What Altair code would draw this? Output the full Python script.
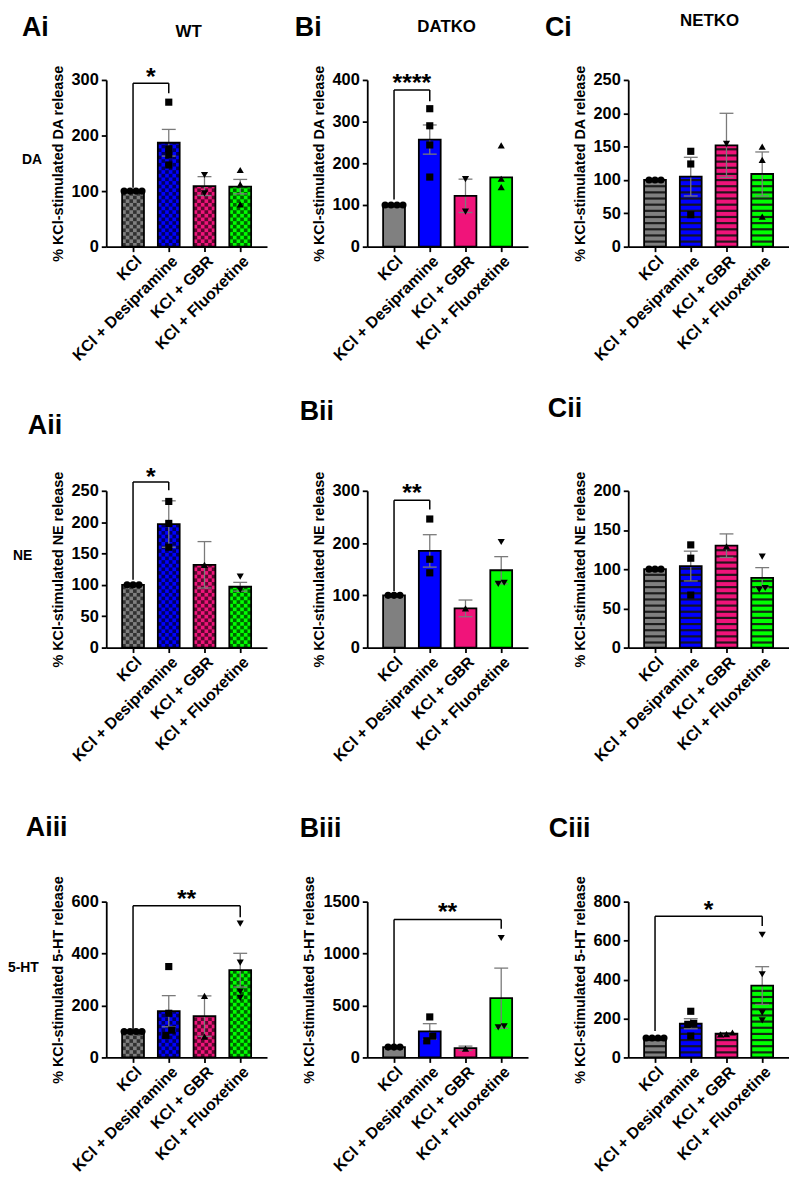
import altair as alt
import pandas as pd

# ── categories and styling per group ──
GROUPS = ["KCl", "KCl + Desipramine", "KCl + GBR", "KCl + Fluoxetine"]
COLORS = ["#808080", "#0000FF", "#F0147A", "#00FF00"]
SHAPES_DA = ["circle", "square", "triangle-down", "triangle-up"]
SHAPES_NE = ["circle", "square", "triangle-up", "triangle-down"]
SHAPES_HT = ["circle", "square", "triangle-up", "triangle-down"]

# ── DA release (row i) ──
WT_DA_MEAN = [100, 187, 109, 108]
WT_DA_SEM = [0, 24, 17, 13]
WT_DA_PTS = [[100, 100, 100, 100], [260, 176, 165, 147], [129, 96], [138, 112, 76]]
WT_DA_SIG = (1, 294, 106, 276, "*", 314)   # target bar, bracket y, left leg, right leg, stars, star y

DAT_DA_MEAN = [100, 257, 122, 166]
DAT_DA_SEM = [0, 35, 40, 0]
DAT_DA_PTS = [[100, 100, 100, 100], [331, 290, 244, 167], [162, 84], [243, 163, 143]]
DAT_DA_SIG = (1, 376, 113, 349, "****", 405)

NET_DA_MEAN = [100, 105, 152, 109]
NET_DA_SEM = [0, 29, 48, 33]
NET_DA_PTS = [[100, 100, 100], [143, 124, 48], [154], [150, 130, 45]]
NET_DA_SIG = None

# ── NE release (row ii) ──
WT_NE_MEAN = [100, 197, 132, 97]
WT_NE_SEM = [0, 37, 37, 7]
WT_NE_PTS = [[100, 100, 100], [233, 198, 160], [132], [113, 92]]
WT_NE_SIG = (1, 264, 108, 251, "*", 280)

DAT_NE_MEAN = [100, 185, 75, 148]
DAT_NE_SEM = [0, 31, 16, 26]
DAT_NE_PTS = [[100, 100, 100], [246, 169, 143], [75], [202, 124, 122]]
DAT_NE_SIG = (1, 282, 108, 264, "**", 306)

NET_NE_MEAN = [100, 104, 130, 89]
NET_NE_SEM = [0, 19, 15, 13]
NET_NE_PTS = [[100, 100, 100], [131, 114, 67], [129], [116, 76, 74]]
NET_NE_SIG = None

# ── 5-HT release (row iii) ──
WT_HT_MEAN = [100, 178, 159, 336]
WT_HT_SEM = [0, 60, 78, 65]
WT_HT_PTS = [[100, 100, 100, 100], [350, 170, 105, 85], [237, 80], [515, 365, 254, 229]]
WT_HT_SIG = (3, 584, 108, 540, "**", 629)

DAT_HT_MEAN = [100, 250, 89, 570]
DAT_HT_SEM = [0, 75, 20, 290]
DAT_HT_PTS = [[100, 100, 100], [390, 205, 160], [85], [1150, 300, 290]]
DAT_HT_SIG = (3, 1328, 127, 1239, "**", 1446)

NET_HT_MEAN = [100, 173, 122, 369]
NET_HT_SEM = [0, 26, 5, 97]
NET_HT_PTS = [[100, 100, 100, 100], [237, 175, 170, 110], [128, 120, 118], [630, 427, 230, 190]]
NET_HT_SIG = (3, 725, 136, 675, "*", 780)

# ── layout constants (pixels) ──
PLOT_W = 162
STEP_PX = 36
BAR_PX = 22
ROW_H = {"DA": 168, "NE": 158, "5-HT": 157}
FONT = "Liberation Sans"

TAG_POS = {"Ai": (-85, -44), "Bi": (-73, -44), "Ci": (-84, -44),
           "Aii": (-79, -57), "Bii": (-68, -71), "Cii": (-81, -74),
           "Aiii": (-81, -66), "Biii": (-68, -65), "Ciii": (-80, -65)}
HEADER_POS = {"WT": (83, -43), "DATKO": (80, -48), "NETKO": (82, -54)}
ROWLAB_POS = {"DA": (-85, 81), "NE": (-94, 66), "5-HT": (-99, 67)}

LABEL_EXPR = "[" + ", ".join(f"'{g}'" for g in GROUPS) + "][datum.value]"


def spread(values, u):
    """fan out points that would sit on top of each other (GraphPad style)"""
    offs = [0.0] * len(values)
    order = sorted(range(len(values)), key=lambda i: values[i])
    clusters = []
    for i in order:
        if clusters and abs(values[i] - values[clusters[-1][-1]]) / u < 6:
            clusters[-1].append(i)
        else:
            clusters.append([i])
    for cl in clusters:
        n = len(cl)
        for k, i in enumerate(cl):
            offs[i] = (k - (n - 1) / 2) * 6.0
    return offs


def panel(tag, geno, nt, ymax, ystep, mean, sem, pts, shapes, sig, header, row_label):
    height = ROW_H[nt]
    u = ymax / height                      # data units per pixel
    half = BAR_PX / 2 / STEP_PX

    X = alt.X("x:Q", scale=alt.Scale(domain=[-0.75, 3.75], nice=False, zero=False),
              axis=alt.Axis(values=[0, 1, 2, 3], labelExpr=LABEL_EXPR, title=None,
                            labelAngle=-45, labelAlign="right", labelBaseline="top",
                            labelOverlap=False, labelPadding=1, labelFontSize=16))
    Y = alt.Y("y:Q", scale=alt.Scale(domain=[0, ymax], nice=False),
              axis=alt.Axis(values=list(range(0, ymax + 1, ystep)), format="d",
                            title=f"% KCl-stimulated {nt} release",
                            labelPadding=3, titlePadding=6, labelFontSize=16.5))

    bars = pd.DataFrame({
        "x": [i - half for i in range(4)],
        "x2": [i + half for i in range(4)],
        "y": [0] * 4,
        "y2": mean,
        "c": COLORS,
    })

    layers = [
        alt.Chart(bars).mark_rect().encode(
            x=X, x2="x2", y=Y, y2="y2", color=alt.Color("c:N", scale=None))
    ]

    # texture: checks for WT, stripes for NETKO, plain for DATKO
    if geno == "WT":
        cell = 3.67 * u
        cw = (BAR_PX / 6) / STEP_PX
        layers.append(
            alt.Chart(bars).transform_calculate(
                r=f"sequence(0, ceil(datum.y2 / {cell}))", j="sequence(0, 6)"
            ).transform_flatten(["r"]).transform_flatten(["j"]).transform_filter(
                "(datum.r + datum.j) % 2 == 0"
            ).transform_calculate(
                x=f"datum.x + datum.j * {cw}"
            ).transform_calculate(
                x2=f"datum.x + {cw}",
                y2=f"min(datum.y2, (datum.r + 1) * {cell})",
            ).transform_calculate(
                y=f"datum.r * {cell}"
            ).mark_rect(color="black", opacity=0.62).encode(x=X, x2="x2", y=Y, y2="y2")
        )
    elif geno == "NETKO":
        period = 6.2 * u
        dark = 2.2 * u
        layers.append(
            alt.Chart(bars).transform_calculate(
                r=f"sequence(0, ceil(datum.y2 / {period}))"
            ).transform_flatten(["r"]).transform_calculate(
                y=f"datum.r * {period} + {period - dark}",
                y2=f"min(datum.y2, (datum.r + 1) * {period})",
            ).transform_filter("datum.y < datum.y2").mark_rect(
                color="#151515", opacity=0.92
            ).encode(x=X, x2="x2", y=Y, y2="y2")
        )

    # error bars (mean ± SEM) with caps
    cap = 7 / STEP_PX
    seg = []
    for i, (m, s) in enumerate(zip(mean, sem)):
        if s <= 0:
            continue
        seg.append({"x": i, "x2": i, "y": m - s, "y2": m + s})
        seg.append({"x": i - cap, "x2": i + cap, "y": m + s, "y2": m + s})
        seg.append({"x": i - cap, "x2": i + cap, "y": m - s, "y2": m - s})
    if seg:
        layers.append(alt.Chart(pd.DataFrame(seg)).mark_rule(color="#7a7a7a", strokeWidth=1.3).encode(
            x=X, x2="x2", y=Y, y2="y2"))

    # bar outlines
    layers.append(alt.Chart(bars).mark_rect(fillOpacity=0, stroke="black", strokeWidth=1.8).encode(
        x=X, x2="x2", y=Y, y2="y2"))

    # individual points
    prow = []
    for i, vals in enumerate(pts):
        for v, o in zip(vals, spread(vals, u)):
            prow.append({"x": i + o / STEP_PX, "y": v, "s": shapes[i]})
    layers.append(alt.Chart(pd.DataFrame(prow)).mark_point(
        filled=True, color="black", size=52, opacity=1).encode(
        x=X, y=Y, shape=alt.Shape("s:N", scale=None)))

    # significance bracket
    if sig:
        t, yb, yl, yr, stars, ys = sig
        br = pd.DataFrame([
            {"x": 0, "x2": t, "y": yb, "y2": yb},
            {"x": 0, "x2": 0, "y": yl, "y2": yb},
            {"x": t, "x2": t, "y": yr, "y2": yb},
        ])
        layers.append(alt.Chart(br).mark_rule(color="black", strokeWidth=1.5).encode(
            x=X, x2="x2", y=Y, y2="y2"))
        layers.append(alt.Chart(pd.DataFrame({"x": [t / 2], "y": [ys], "t": [stars]})).mark_text(
            font=FONT, fontSize=25, fontWeight="bold", dy=13, baseline="alphabetic", color="black"
        ).encode(x=X, y=Y, text="t:N"))

    # panel tag, column header, row label
    tx, ty = TAG_POS[tag]
    layers.append(alt.Chart(pd.DataFrame({"t": [tag]})).mark_text(
        font=FONT, fontSize=27, fontWeight="bold", align="left", baseline="alphabetic", color="black"
    ).encode(x=alt.value(tx), y=alt.value(ty), text="t:N"))
    if header:
        hx, hy = HEADER_POS[geno]
        layers.append(alt.Chart(pd.DataFrame({"t": [geno]})).mark_text(
            font=FONT, fontSize=17, fontWeight="bold", align="center", baseline="alphabetic", color="black"
        ).encode(x=alt.value(hx), y=alt.value(hy), text="t:N"))
    if row_label:
        rx, ry = ROWLAB_POS[nt]
        layers.append(alt.Chart(pd.DataFrame({"t": [nt]})).mark_text(
            font=FONT, fontSize=14, fontWeight="bold", align="left", baseline="middle", color="black"
        ).encode(x=alt.value(rx), y=alt.value(ry), text="t:N"))

    return alt.layer(*layers).properties(width=PLOT_W, height=height)


panels = [
    panel("Ai", "WT", "DA", 300, 100, WT_DA_MEAN, WT_DA_SEM, WT_DA_PTS, SHAPES_DA, WT_DA_SIG, True, True),
    panel("Bi", "DATKO", "DA", 400, 100, DAT_DA_MEAN, DAT_DA_SEM, DAT_DA_PTS, SHAPES_DA, DAT_DA_SIG, True, False),
    panel("Ci", "NETKO", "DA", 250, 50, NET_DA_MEAN, NET_DA_SEM, NET_DA_PTS, SHAPES_DA, NET_DA_SIG, True, False),
    panel("Aii", "WT", "NE", 250, 50, WT_NE_MEAN, WT_NE_SEM, WT_NE_PTS, SHAPES_NE, WT_NE_SIG, False, True),
    panel("Bii", "DATKO", "NE", 300, 100, DAT_NE_MEAN, DAT_NE_SEM, DAT_NE_PTS, SHAPES_NE, DAT_NE_SIG, False, False),
    panel("Cii", "NETKO", "NE", 200, 50, NET_NE_MEAN, NET_NE_SEM, NET_NE_PTS, SHAPES_NE, NET_NE_SIG, False, False),
    panel("Aiii", "WT", "5-HT", 600, 200, WT_HT_MEAN, WT_HT_SEM, WT_HT_PTS, SHAPES_HT, WT_HT_SIG, False, True),
    panel("Biii", "DATKO", "5-HT", 1500, 500, DAT_HT_MEAN, DAT_HT_SEM, DAT_HT_PTS, SHAPES_HT, DAT_HT_SIG, False, False),
    panel("Ciii", "NETKO", "5-HT", 800, 200, NET_HT_MEAN, NET_HT_SEM, NET_HT_PTS, SHAPES_HT, NET_HT_SIG, False, False),
]

chart = alt.concat(
    *panels, columns=3, spacing={"row": 246, "column": 101}, bounds="flush", align="all"
).properties(
    padding={"left": 0, "top": 0, "right": 0, "bottom": 0}
).configure(
    font=FONT, background="white"
).configure_view(
    stroke=None
).configure_axis(
    grid=False,
    domainColor="black", domainWidth=1.8,
    tickColor="black", tickWidth=1.8, tickSize=5,
    labelColor="black", labelFont=FONT, labelFontWeight="bold",
    titleColor="black", titleFont=FONT, titleFontWeight="bold", titleFontSize=14.5,
)

chart.save("out.html", embed_options={"renderer": "svg", "actions": False})
print("Saved: out.html")
